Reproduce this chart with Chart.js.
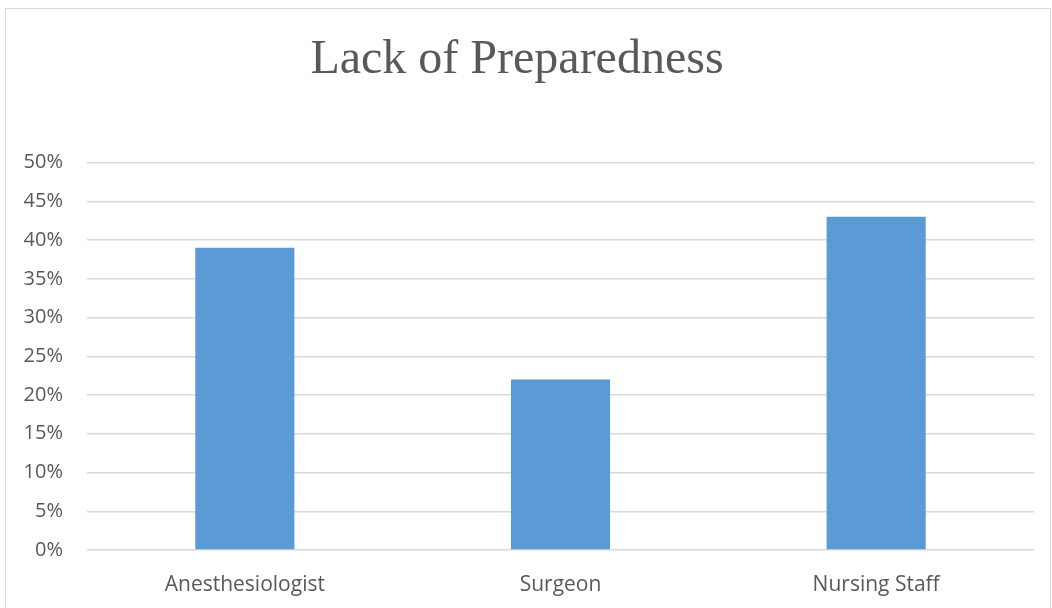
<!DOCTYPE html>
<html>
<head>
<meta charset="utf-8">
<script src="https://cdn.jsdelivr.net/npm/chart.js@4"></script>
<style>
  body { margin: 0; background: #fff; }
  #frame { position: absolute; left: 5px; top: 8px; width: 1046px; height: 606px; border: 1.5px solid #d9d9d9; box-sizing: border-box; }
  #myChart { position: absolute; left: 0; top: 0; }
</style>
</head>
<body>
<div id="frame"></div>
<canvas id="myChart" width="1052" height="608"></canvas>
<script>
var categories = ['Anesthesiologist', 'Surgeon', 'Nursing Staff'];
var values = [39, 22, 43];
var tickMin = 0;
var tickMax = 50;
var tickStep = 5;

var ctx = document.getElementById('myChart').getContext('2d');
var chart = new Chart(ctx, {
  type: 'bar',
  data: {
    labels: categories,
    datasets: [{
      data: values,
      backgroundColor: '#5b9bd5',
      borderWidth: 0,
      categoryPercentage: 1,
      barPercentage: 0.314
    }]
  },
  options: {
    responsive: false,
    animation: false,
    layout: { padding: { left: 0, right: 18, top: 0, bottom: 0 } },
    plugins: {
      legend: { display: false },
      tooltip: { enabled: false },
      title: {
        display: true,
        text: 'Lack of Preparedness',
        color: '#595959',
        font: { family: '"Liberation Serif", "Times New Roman", serif', size: 48, weight: 'normal', lineHeight: 1.2 },
        padding: { top: 32, bottom: 73 }
      }
    },
    scales: {
      x: {
        grid: { display: false },
        border: { display: false },
        ticks: { color: '#595959', font: { family: '"Open Sans", sans-serif', size: 21 }, padding: 14 },
        afterFit: function(scale) { scale.height = 58; }
      },
      y: {
        min: tickMin,
        max: tickMax,
        grid: { color: '#d9d9d9', lineWidth: 1.5, drawTicks: false },
        border: { display: false },
        ticks: {
          stepSize: tickStep,
          color: '#595959',
          font: { family: '"Open Sans", sans-serif', size: 20 },
          padding: 24,
          callback: function(v) { return v + '%'; }
        },
        afterFit: function(scale) { scale.width = 87; }
      }
    }
  }
});
</script>
</body>
</html>
